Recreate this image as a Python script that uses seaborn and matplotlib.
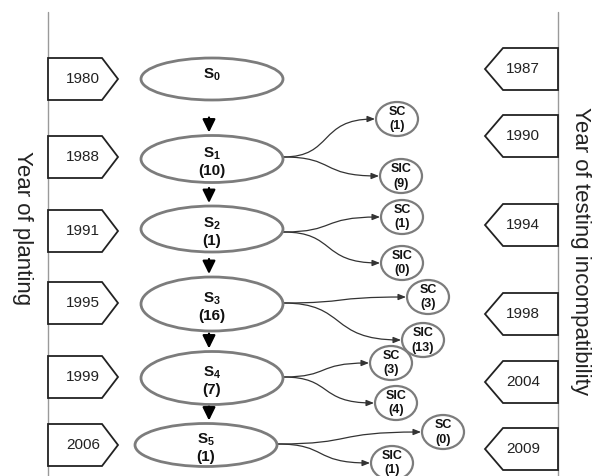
#!/usr/bin/env python3

import numpy as np
import matplotlib
matplotlib.use('Agg')
import matplotlib.pyplot as plt
import seaborn as sns
from matplotlib.patches import Ellipse, Polygon, FancyArrowPatch
from matplotlib.path import Path

# Data: generations, planting/testing years and counts
generations = ['0', '1', '2', '3', '4', '5']
planting_years = [1980, 1988, 1991, 1995, 1999, 2006]
testing_years = [1987, 1990, 1994, 1998, 2004, 2009]
n_plants = [None, 10, 1, 16, 7, 1]
sc_counts = [1, 1, 3, 3, 0]
sic_counts = [9, 0, 13, 4, 1]

# Layout (pixel units of the 593x476 canvas)
W, H = 593, 476
row_y = [79, 159, 229, 304, 378, 445]
ell_x = [212, 212, 212, 212, 212, 206]
ell_h = [42, 47, 46, 54, 53, 43]
ell_w = 142
plant_y = [79, 157, 231, 303, 377, 445]
test_y = [69, 136, 225, 314, 382, 449]
branch_y = [157, 232, 303, 377, 444]
sc_xy = [(397, 119), (402, 217), (428, 297), (391, 363), (443, 432)]
sic_xy = [(401, 176), (402, 263), (423, 340), (396, 403), (392, 463)]
small_w, small_h = 42, 34

sns.set_theme(style='white')
plt.rcParams['font.family'] = ['Liberation Sans', 'DejaVu Sans']
plt.rcParams['mathtext.fontset'] = 'custom'
plt.rcParams['mathtext.rm'] = 'Liberation Sans'
plt.rcParams['mathtext.bf'] = 'Liberation Sans:bold'

fig = plt.figure(figsize=(W / 100, H / 100), dpi=100)
ax = fig.add_axes([0, 0, 1, 1])
ax.set_xlim(0, W)
ax.set_ylim(H, 0)
ax.axis('off')

# Timeline axes lines
ax.plot([48, 48], [12, H], color='#9a9a9a', lw=1.0, zorder=1)
ax.plot([558, 558], [12, H], color='#9a9a9a', lw=1.0, zorder=1)

# Planting year tags (pointing right)
for yr, y in zip(planting_years, plant_y):
    pts = [(48, y - 21), (102, y - 21), (118, y), (102, y + 21), (48, y + 21)]
    ax.add_patch(Polygon(pts, closed=True, fc='white', ec='#222222', lw=1.3, zorder=2))
    ax.text(83, y, str(yr), ha='center', va='center', fontsize=11, color='#222222')

# Testing year tags (pointing left)
for yr, y in zip(testing_years, test_y):
    pts = [(558, y - 21), (503, y - 21), (485, y), (503, y + 21), (558, y + 21)]
    ax.add_patch(Polygon(pts, closed=True, fc='white', ec='#222222', lw=1.3, zorder=2))
    ax.text(523, y, str(yr), ha='center', va='center', fontsize=11, color='#222222')

# Generation ellipses
for i, (g, n) in enumerate(zip(generations, n_plants)):
    cx, cy = ell_x[i], row_y[i]
    ax.add_patch(Ellipse((cx, cy), ell_w, ell_h[i], fc='white', ec='#7c7c7c', lw=2.0, zorder=3))
    if n is None:
        ax.text(cx, cy - 4, r'$\mathbf{S_{%s}}$' % g, ha='center', va='center',
                fontsize=11, color='#111111', zorder=4)
    else:
        ax.text(cx, cy - 5, r'$\mathbf{S_{%s}}$' % g, ha='center', va='center',
                fontsize=11, color='#111111', zorder=4)
        ax.text(cx, cy + 12, f'({n})', ha='center', va='center', fontsize=11,
                fontweight='bold', color='#111111', zorder=4)

# Down arrows between generations (short, just above the next ellipse)
for i in range(len(row_y) - 1):
    y1 = row_y[i + 1] - ell_h[i + 1] / 2 - 3
    y0 = y1 - 15
    ax.annotate('', xy=(209, y1), xytext=(209, y0),
                arrowprops=dict(arrowstyle='-|>,head_length=0.65,head_width=0.32',
                                color='black', lw=1.6, shrinkA=0, shrinkB=0),
                zorder=2)


def branch(x0, y0, x1, y1):
    dx = x1 - x0
    verts = [(x0, y0), (x0 + 0.55 * dx, y0), (x0 + 0.38 * dx, y1), (x1, y1)]
    codes = [Path.MOVETO, Path.CURVE4, Path.CURVE4, Path.CURVE4]
    arr = FancyArrowPatch(path=Path(verts, codes),
                          arrowstyle='-|>,head_length=4.5,head_width=1.8',
                          mutation_scale=1, lw=0.9, color='#333333',
                          shrinkA=0, shrinkB=0, zorder=2)
    ax.add_patch(arr)


# SC / SIC outcomes for each tested generation
for i in range(len(sc_counts)):
    g = i + 1
    x0 = ell_x[g] + ell_w / 2
    y0 = branch_y[i]
    for label, cnt, (cx, cy) in (('SC', sc_counts[i], sc_xy[i]),
                                 ('SIC', sic_counts[i], sic_xy[i])):
        branch(x0, y0, cx - small_w / 2 - 1, cy)
        ax.add_patch(Ellipse((cx, cy), small_w, small_h, fc='white', ec='#7c7c7c',
                             lw=1.6, zorder=3))
        ax.text(cx, cy - 7, label, ha='center', va='center', fontsize=9,
                fontweight='bold', color='#111111', zorder=4)
        ax.text(cx, cy + 7.5, f'({cnt})', ha='center', va='center', fontsize=9,
                fontweight='bold', color='#111111', zorder=4)

# Side titles
ax.text(22, 228, 'Year of planting', rotation=-90, ha='center', va='center',
        fontsize=16, color='#222222')
ax.text(580, 251, 'Year of testing incompatibility', rotation=-90, ha='center',
        va='center', fontsize=16, color='#222222')

fig.savefig('out.png', dpi=100)
plt.close(fig)
